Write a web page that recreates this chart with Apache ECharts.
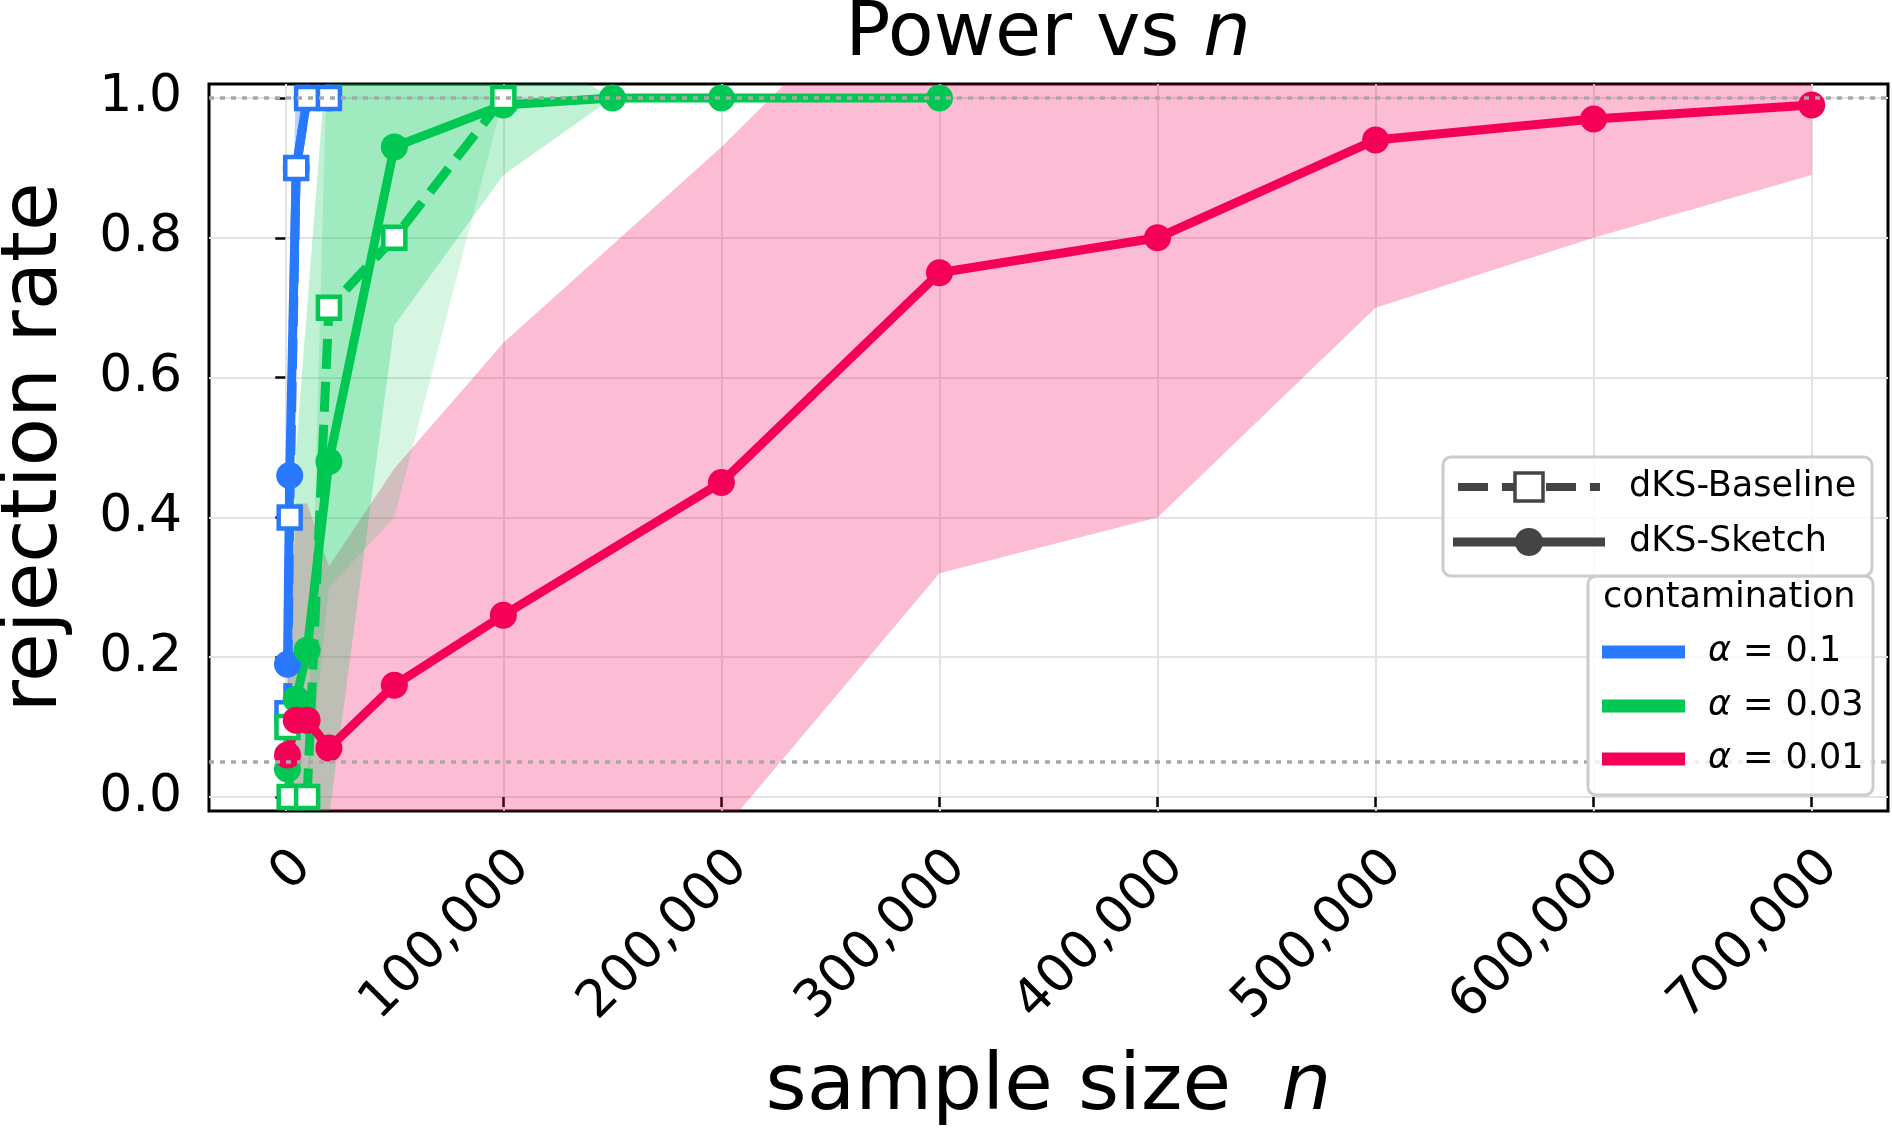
<!DOCTYPE html>
<html>
<head>
<meta charset="utf-8">
<title>Power vs n</title>
<script src="https://cdn.jsdelivr.net/npm/echarts@6/dist/echarts.min.js"></script>
<style>
  html, body { margin: 0; padding: 0; background: #fff; }
  #chart { width: 1892px; height: 1130px; }
</style>
</head>
<body>
<div id="chart"></div>
<script>
// sample sizes and rejection rates
var xTicks = [0, 100000, 200000, 300000, 400000, 500000, 600000, 700000];
var yTicks = [0, 0.2, 0.4, 0.6, 0.8, 1.0];

// alpha = 0.1
var nBlue = [1000, 2000, 5000, 10000, 20000];
var blueSketch = [0.19, 0.46, 0.9, 1.0, 1.0];
var blueSketchLo = [0.02, 0.3, 0.82, 1.0, 1.0];
var blueSketchHi = [0.36, 0.62, 1.05, 1.0, 1.0];
var blueBase = [0.12, 0.4, 0.9, 1.0, 1.0];

// alpha = 0.03
var nGreenSketch = [1000, 5000, 10000, 20000, 50000, 100000, 150000, 200000, 300000];
var greenSketch = [0.04, 0.14, 0.21, 0.48, 0.93, 0.99, 1.0, 1.0, 1.0];
var greenSketchLo = [-0.1, -0.15, -0.2, -0.03, 0.675, 0.89, 1.0, 1.0, 1.0];
var greenSketchHi = [0.12, 0.5, 0.7, 1.1, 1.2, 1.09, 1.0, 1.0, 1.0];
var nGreenBase = [1000, 2000, 10000, 20000, 50000, 100000];
var greenBase = [0.1, 0.0, 0.0, 0.7, 0.8, 1.0];
var greenBaseLo = [-0.2, 0.0, 0.0, 0.3, 0.4, 1.0];
var greenBaseHi = [0.4, 0.0, 0.0, 1.16, 1.2, 1.0];

// alpha = 0.01
var nRed = [1000, 5000, 10000, 20000, 50000, 100000, 200000, 300000, 400000, 500000, 600000, 700000];
var redSketch = [0.06, 0.11, 0.11, 0.07, 0.16, 0.26, 0.45, 0.75, 0.80, 0.94, 0.97, 0.99];
var redSketchLo = [-0.05, -0.2, -0.2, -0.2, -0.22, -0.15, -0.05, 0.32, 0.40, 0.70, 0.80, 0.89];
var redSketchHi = [0.16, 0.42, 0.42, 0.33, 0.47, 0.65, 0.93, 1.24, 1.2, 1.18, 1.14, 1.09];

var refLines = [1.0, 0.05];

var BLUE = '#2979ff', GREEN = '#00c853', RED = '#f50057';
var FONT = 'DejaVu Sans';

function pairs(ns, vs) {
    return ns.map(function (n, i) { return [n, vs[i]]; });
}

// shaded band between lo and hi, one polygon, clipped to the plot
function band(ns, lo, hi, fill) {
    return {
        type: 'custom',
        z: 1,
        silent: true,
        data: ns.map(function (n, i) { return [n, lo[i], hi[i]]; }),
        encode: { x: 0, y: [1, 2] },
        renderItem: function (params, api) {
            if (params.dataIndex !== 0) return null;
            var pts = [];
            for (var i = 0; i < ns.length; i++) pts.push(api.coord([ns[i], hi[i]]));
            for (var j = ns.length - 1; j >= 0; j--) pts.push(api.coord([ns[j], lo[j]]));
            var cs = params.coordSys;
            return {
                type: 'polygon',
                shape: { points: pts },
                style: { fill: fill, stroke: null },
                clipPath: { type: 'rect', shape: { x: cs.x, y: cs.y, width: cs.width, height: cs.height } }
            };
        }
    };
}

function sketchLine(ns, vs, color) {
    return {
        type: 'line',
        z: 3,
        data: pairs(ns, vs),
        symbol: 'circle',
        symbolSize: 27,
        itemStyle: { color: color },
        lineStyle: { color: color, width: 9 },
        silent: true
    };
}

function baseLine(ns, vs, color) {
    return {
        type: 'line',
        z: 3,
        data: pairs(ns, vs),
        symbol: 'rect',
        symbolSize: 22,
        itemStyle: { color: '#fff', borderColor: color, borderWidth: 4.5 },
        lineStyle: { color: color, width: 9, type: [30, 13] },
        silent: true
    };
}

var chart = echarts.init(document.getElementById('chart'), null, { renderer: 'canvas' });

var redLine = sketchLine(nRed, redSketch, RED);
redLine.markLine = {
    silent: true,
    symbol: 'none',
    label: { show: false },
    lineStyle: { color: '#a8a8a8', width: 3.5, type: [5, 6] },
    data: refLines.map(function (v) { return { yAxis: v }; })
};

var legendText = { fontFamily: FONT, fontSize: 35, fill: '#000' };

option = {
    animation: false,
    backgroundColor: '#fff',
    grid: {
        left: 209, right: 4, top: 84, bottom: 319,
        outerBoundsMode: 'none',
        containLabel: false,
        show: true, borderColor: '#000', borderWidth: 3, backgroundColor: 'transparent'
    },
    xAxis: {
        type: 'value',
        min: -35000, max: 735000,
        name: '{r|sample size  }{i|n}',
        nameLocation: 'middle',
        nameGap: 238,
        nameTextStyle: {
            rich: {
                r: { fontFamily: FONT, fontSize: 79, color: '#000' },
                i: { fontFamily: FONT, fontSize: 79, fontStyle: 'italic', color: '#000' }
            }
        },
        axisLine: { show: false },
        axisTick: { show: true, length: 10, lineStyle: { color: '#000', width: 2.5 }, customValues: xTicks },
        axisLabel: {
            customValues: xTicks,
            rotate: 45,
            align: 'right',
            verticalAlign: 'top',
            margin: 30,
            fontFamily: FONT, fontSize: 52, color: '#000',
            formatter: function (v) { return v.toLocaleString('en-US'); }
        },
        splitLine: { show: true, lineStyle: { color: '#e3e3e3', width: 2 } }
    },
    yAxis: {
        type: 'value',
        min: -0.02, max: 1.02,
        name: 'rejection rate',
        nameLocation: 'middle',
        nameGap: 134,
        nameTextStyle: { fontFamily: FONT, fontSize: 79, color: '#000' },
        axisLine: { show: false },
        axisTick: { show: true, length: 10, lineStyle: { color: '#000', width: 2.5 }, customValues: yTicks },
        axisLabel: {
            customValues: yTicks,
            margin: 27,
            fontFamily: FONT, fontSize: 52, color: '#000',
            formatter: function (v) { return v.toFixed(1); }
        },
        splitLine: { show: true, lineStyle: { color: '#e3e3e3', width: 2 } }
    },
    series: [
        band(nRed, redSketchLo, redSketchHi, 'rgba(245,0,87,0.26)'),
        band(nGreenSketch, greenSketchLo, greenSketchHi, 'rgba(0,200,83,0.25)'),
        band(nGreenBase, greenBaseLo, greenBaseHi, 'rgba(0,200,83,0.16)'),
        band(nBlue, blueSketchLo, blueSketchHi, 'rgba(41,121,255,0.32)'),
        sketchLine(nBlue, blueSketch, BLUE),
        baseLine(nBlue, blueBase, BLUE),
        sketchLine(nGreenSketch, greenSketch, GREEN),
        baseLine(nGreenBase, greenBase, GREEN),
        redLine
    ],
    graphic: [
        // title
        {
            type: 'text', x: 1048, y: -2, z: 10,
            style: {
                text: '{a|Power vs }{b|n}',
                textAlign: 'center', textVerticalAlign: 'top',
                rich: {
                    a: { fontFamily: FONT, fontSize: 75, fill: '#000' },
                    b: { fontFamily: FONT, fontSize: 75, fontStyle: 'italic', fill: '#000' }
                }
            }
        },
        // legend: contamination box
        {
            type: 'rect', z: 20,
            shape: { x: 1588, y: 576, width: 285, height: 219, r: 8 },
            style: { fill: 'rgba(255,255,255,0.8)', stroke: '#cccccc', lineWidth: 3 }
        },
        {
            type: 'text', x: 1603, y: 598, z: 21,
            style: Object.assign({ text: 'contamination', textVerticalAlign: 'middle' }, legendText)
        },
        { type: 'line', z: 21, shape: { x1: 1602, y1: 652, x2: 1685, y2: 652 }, style: { stroke: BLUE, lineWidth: 13 } },
        { type: 'line', z: 21, shape: { x1: 1602, y1: 706, x2: 1685, y2: 706 }, style: { stroke: GREEN, lineWidth: 13 } },
        { type: 'line', z: 21, shape: { x1: 1602, y1: 759, x2: 1685, y2: 759 }, style: { stroke: RED, lineWidth: 13 } },
        {
            type: 'text', x: 1708, y: 652, z: 21,
            style: { text: '{i|α}{o| = }0.1', textVerticalAlign: 'middle', fontFamily: FONT, fontSize: 35, fill: '#000',
                rich: { i: { fontFamily: FONT, fontSize: 35, fontStyle: 'italic', fill: '#000' },
                        o: { fontFamily: FONT, fontSize: 37, fill: '#000' } } }
        },
        {
            type: 'text', x: 1708, y: 706, z: 21,
            style: { text: '{i|α}{o| = }0.03', textVerticalAlign: 'middle', fontFamily: FONT, fontSize: 35, fill: '#000',
                rich: { i: { fontFamily: FONT, fontSize: 35, fontStyle: 'italic', fill: '#000' },
                        o: { fontFamily: FONT, fontSize: 37, fill: '#000' } } }
        },
        {
            type: 'text', x: 1708, y: 759, z: 21,
            style: { text: '{i|α}{o| = }0.01', textVerticalAlign: 'middle', fontFamily: FONT, fontSize: 35, fill: '#000',
                rich: { i: { fontFamily: FONT, fontSize: 35, fontStyle: 'italic', fill: '#000' },
                        o: { fontFamily: FONT, fontSize: 37, fill: '#000' } } }
        },
        // legend: method box
        {
            type: 'rect', z: 22,
            shape: { x: 1443, y: 457, width: 429, height: 119, r: 8 },
            style: { fill: 'rgba(255,255,255,0.8)', stroke: '#cccccc', lineWidth: 3 }
        },
        { type: 'line', z: 23, shape: { x1: 1458, y1: 487, x2: 1600, y2: 487 }, style: { stroke: '#444', lineWidth: 8, lineDash: [30, 14] } },
        { type: 'rect', z: 24, shape: { x: 1515, y: 473, width: 28, height: 28 }, style: { fill: '#fff', stroke: '#444', lineWidth: 3.5 } },
        { type: 'line', z: 23, shape: { x1: 1453, y1: 542, x2: 1605, y2: 542 }, style: { stroke: '#444', lineWidth: 9 } },
        { type: 'circle', z: 24, shape: { cx: 1529, cy: 542, r: 14 }, style: { fill: '#444' } },
        {
            type: 'text', x: 1629, y: 487, z: 23,
            style: Object.assign({ text: 'dKS-Baseline', textVerticalAlign: 'middle' }, legendText)
        },
        {
            type: 'text', x: 1629, y: 542, z: 23,
            style: Object.assign({ text: 'dKS-Sketch', textVerticalAlign: 'middle' }, legendText)
        }
    ]
};

chart.setOption(option);
</script>
</body>
</html>
